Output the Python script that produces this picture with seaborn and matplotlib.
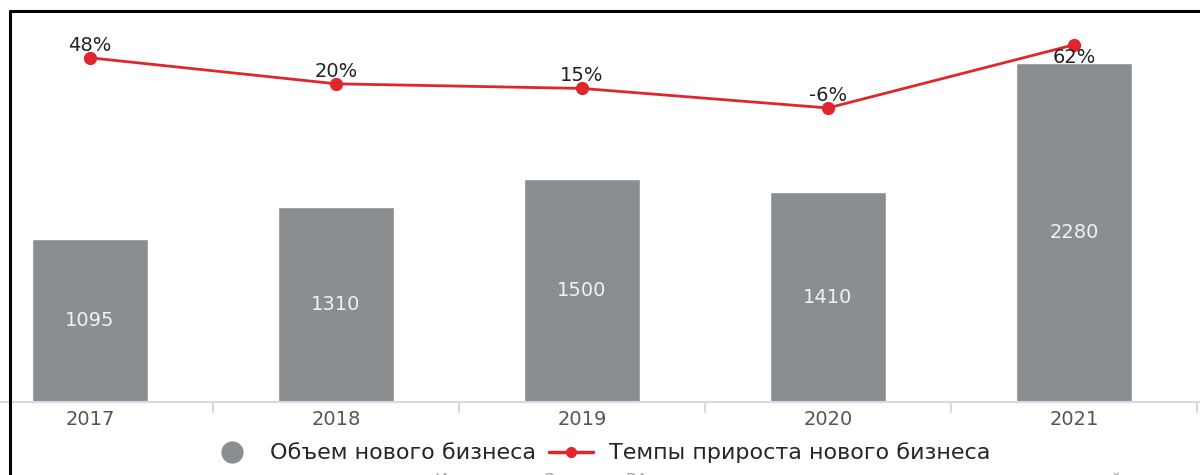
import pandas as pd
import numpy as np
import matplotlib.pyplot as plt
import seaborn as sns
from matplotlib.lines import Line2D

years = ["2017", "2018", "2019", "2020", "2021"]
volume = [1095, 1310, 1500, 1410, 2280]
growth = [48, 20, 15, -6, 62]
growth_labels = ["48%", "20%", "15%", "-6%", "62%"]
bar_name = "Объем нового бизнеса"
line_name = "Темпы прироста нового бизнеса"
source = "Источник: «Эксперт РА» по данным анкетирования лизинговых компаний"

sns.set_style("white")
plt.rcParams['font.family'] = 'DejaVu Sans'

BAR_COLOR = "#8a8e91"
RED = "#e0262c"
AXIS_COLOR = "#d3dbe8"

df = pd.DataFrame({"year": years, "volume": volume, "growth": growth})

W, H = 1200, 475
fig = plt.figure(figsize=(12, 4.75), dpi=100)
ax = fig.add_axes([0, 73 / H, 1, 402 / H])

sns.barplot(data=df, x="year", y="volume", color=BAR_COLOR, width=0.47,
            saturation=1, ax=ax)
for p, v in zip(ax.patches, volume):
    ax.text(p.get_x() + p.get_width() / 2, v / 2, str(v), ha="center",
            va="center", color="#f2f2f2", fontsize=14)

ax.set_ylim(0, 2700)
ax.set_xlim(-0.366, 4.512)
ax.set_yticks([])
ax.set_xlabel("")
ax.set_ylabel("")
for s in ["top", "right", "left"]:
    ax.spines[s].set_visible(False)
ax.spines["bottom"].set_color(AXIS_COLOR)
ax.spines["bottom"].set_linewidth(1.5)
ax.tick_params(axis="x", length=0, pad=6, labelsize=14, labelcolor="#555555")

# separator ticks between categories
for b in np.arange(len(years)) + 0.5:
    ax.plot([b, b], [0, -0.025], transform=ax.get_xaxis_transform(),
            color=AXIS_COLOR, lw=1.5, clip_on=False)

ax2 = ax.twinx()
sns.pointplot(data=df, x="year", y="growth", color=RED, markers="o",
              markersize=8, linewidth=2, ax=ax2)
ax2.set_ylim(-322.5, 110.2)
ax2.set_xlim(-0.366, 4.512)
ax2.set_yticks([])
ax2.set_ylabel("")
for s in ["top", "right", "left", "bottom"]:
    ax2.spines[s].set_visible(False)

for i, (g, lab) in enumerate(zip(growth, growth_labels)):
    dy = -9 if i == len(growth) - 1 else 9
    ax2.annotate(lab, (i, g), xytext=(0, dy), textcoords="offset points",
                 ha="center", va="center", fontsize=14, color="#222222")

# screenshot frame
fig.add_artist(Line2D([10 / W, 1], [1 - 11 / H, 1 - 11 / H], color="black", lw=2.2))
fig.add_artist(Line2D([10 / W, 10 / W], [0, 1 - 11 / H], color="black", lw=2.2))

handles = [
    Line2D([], [], marker="o", color=BAR_COLOR, linestyle="none", markersize=15),
    Line2D([], [], marker="o", color=RED, lw=2.5, markersize=7),
]
fig.legend(handles, [bar_name, line_name], loc="center", ncol=2,
           bbox_to_anchor=(0.5, 1 - 453 / H), frameon=False, fontsize=16,
           handlelength=2, columnspacing=0.6, handletextpad=0.7)

fig.text(435 / W, -6 / H, source, ha="left", va="center", fontsize=12.5,
         color="#aaaaaa")

fig.savefig("out.png", dpi=100)
